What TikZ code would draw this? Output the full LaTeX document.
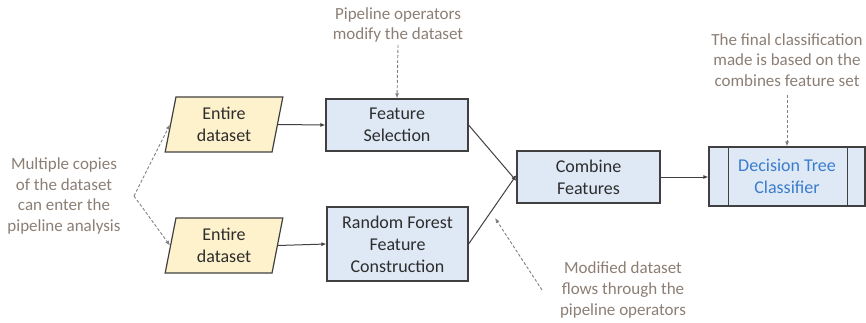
\documentclass[tikz,border=0pt]{standalone}
\usepackage{fontspec}
\setmainfont{Carlito}
\usetikzlibrary{shapes.geometric,arrows.meta}
\definecolor{notec}{RGB}{140,126,116}
\definecolor{boxline}{RGB}{64,64,64}
\definecolor{bluefill}{RGB}{222,233,245}
\definecolor{yelfill}{RGB}{254,242,204}
\definecolor{dtblue}{RGB}{58,124,206}
\definecolor{txt}{RGB}{45,45,45}
\tikzset{
  bluebox/.style={draw=boxline, line width=1.2pt, fill=bluefill, align=center, text=txt,
    font=\fontsize{18}{22}\selectfont, inner sep=0pt},
  databox/.style={trapezium, trapezium left angle=80, trapezium right angle=100,
    trapezium stretches=true, draw=boxline, line width=1.2pt, fill=yelfill, align=center,
    text=txt, font=\fontsize{18}{22}\selectfont, minimum width=118pt, minimum height=55pt, inner sep=0pt},
  note/.style={align=center, text=notec, font=\fontsize{17}{20.7}\selectfont, inner sep=0pt},
  flow/.style={draw=boxline, line width=1pt, -{Latex[length=5pt,width=4pt]}},
  hint/.style={draw=gray, line width=0.9pt, dashed, dash pattern=on 3pt off 2pt,
    -{Latex[length=5pt,width=4pt]}}
}
\begin{document}
\begin{tikzpicture}[x=1pt,y=-1pt]
\path[use as bounding box] (0,0) rectangle (866,323);

% data nodes
\node[databox] (d1) at (224,124.5) {Entire\\dataset};
\node[databox] (d2) at (224,245.5) {Entire\\dataset};

% process boxes
\node[bluebox, minimum width=142pt, minimum height=52pt] (fs) at (397,125) {Feature\\Selection};
\node[bluebox, minimum width=141pt, minimum height=74pt] (rf) at (397.5,244) {Random Forest\\Feature\\Construction};
\node[bluebox, minimum width=143pt, minimum height=52pt] (cf) at (588.5,177) {Combine\\Features};
\node[bluebox, minimum width=156pt, minimum height=59pt, text=dtblue] (dt) at (787,176.5) {Decision Tree\\Classifier};
\draw[boxline, line width=1.2pt] ([xshift=20pt]dt.north west) -- ([xshift=20pt]dt.south west);
\draw[boxline, line width=1.2pt] ([xshift=-18pt]dt.north east) -- ([xshift=-18pt]dt.south east);

% annotations
\node[note] (n1) at (64,196) {Multiple copies\\of the dataset\\can enter the\\pipeline analysis};
\node[note] (n2) at (398,25) {Pipeline operators\\modify the dataset};
\node[note] (n3) at (787,60) {The final classification\\made is based on the\\combines feature set};
\node[note] (n4) at (623,290) {Modified dataset\\flows through the\\pipeline operators};

\coordinate (c1) at (134,196);
\coordinate (c4) at (542,290);

% flows
\draw[flow] (d1.east) -- (fs.west);
\draw[flow] (d2.east) -- (rf.west);
\draw[flow] (fs.east) -- ([yshift=-4pt]cf.west);
\draw[flow] (rf.east) -- ([yshift=2pt]cf.west);
\draw[flow] (cf.east) -- (cf.east -| dt.west);

% hints
\draw[hint] (c1) -- (d1.west);
\draw[hint] (c1) -- (d2.west);
\draw[hint] ([yshift=-2pt]n2.south) -- (fs.north);
\draw[hint] ([yshift=-8pt]n3.south) -- (dt.north);
\draw[hint] (c4) -- (495,218);
\end{tikzpicture}
\end{document}
